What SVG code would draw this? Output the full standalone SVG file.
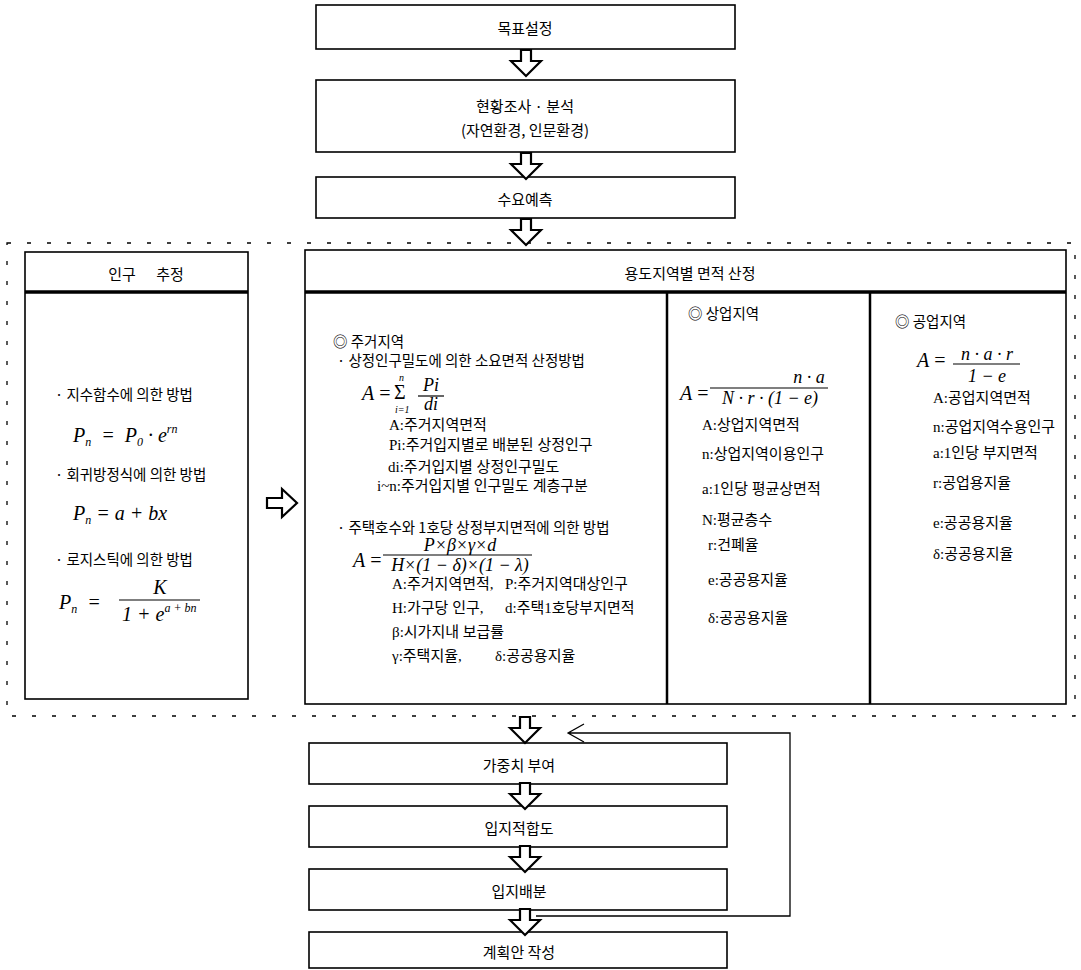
<svg xmlns="http://www.w3.org/2000/svg" width="1081" height="970" viewBox="0 0 1081 970">
<style>
.box{fill:#fff;stroke:#000;stroke-width:1.6}
.thick{stroke:#000;stroke-width:3.5;fill:none}
.col{stroke:#000;stroke-width:2.5;fill:none}
.dot{fill:none;stroke:#000;stroke-width:1.3;stroke-dasharray:4 16}
.lbl{font-family:"Noto Sans CJK KR","Noto Sans",sans-serif;font-size:15px;fill:#000;text-anchor:middle;dominant-baseline:central}
.t{font-family:"Liberation Serif","Noto Sans CJK KR",serif;font-size:15px;fill:#000;dominant-baseline:central}
.k{font-family:"Noto Sans CJK KR",sans-serif;font-size:14.5px;fill:#000;dominant-baseline:central}
.m{font-family:"Liberation Serif",serif;font-style:italic;font-size:20px;fill:#000}
.m18{font-family:"Liberation Serif",serif;font-style:italic;font-size:18px;fill:#000}
.mu{font-family:"Liberation Serif",serif;font-style:normal}
.sub{font-size:12px}
.tiny{font-family:"Liberation Serif",serif;font-style:italic;font-size:10px;fill:#000}
.sig{font-family:"Liberation Serif",serif;font-size:20px;fill:#000}
.arr{fill:#fff;stroke:#000;stroke-width:2.2;stroke-linejoin:miter}
.fb{fill:none;stroke:#000;stroke-width:1.3}
.fl{stroke:#000;stroke-width:1.2}
</style>
<defs>
<path id="da" class="arr" d="M-5,0 H5 V11 H15 L0,26 L-15,11 H-5 Z"/>
</defs>

<rect class="dot" x="7" y="243" width="1068" height="473"/>

<g id="n-goal"><rect class="box" x="316" y="5" width="419" height="44"/><text class="lbl" x="525" y="27">목표설정</text></g>
<g id="n-survey"><rect class="box" x="316" y="80" width="419" height="72"/><text class="lbl" x="525" y="105">현황조사 · 분석</text><text class="lbl" x="525" y="129">(자연환경, 인문환경)</text></g>
<g id="n-demand"><rect class="box" x="316" y="177" width="419" height="41"/><text class="lbl" x="525" y="198">수요예측</text></g>

<g id="n-pop">
<rect class="box" x="25" y="252" width="223" height="447"/>
<line class="thick" x1="25" y1="292" x2="248" y2="292"/>
<text class="lbl" x="122" y="273">인구</text><text class="lbl" x="170" y="273">추정</text>
<text class="k" x="55" y="393">· 지수함수에 의한 방법</text>
<text class="m" x="73" y="442">P<tspan class="sub" dy="4">n</tspan><tspan dy="-4" xml:space="preserve">  =  P</tspan><tspan class="sub" dy="4">0</tspan><tspan dy="-4"> · e</tspan><tspan class="sub" dy="-9">rn</tspan></text>
<text class="k" x="55" y="473">· 회귀방정식에 의한 방법</text>
<text class="m" x="73" y="520">P<tspan class="sub" dy="4">n</tspan><tspan dy="-4"> = a + bx</tspan></text>
<text class="k" x="55" y="558">· 로지스틱에 의한 방법</text>
<text class="m" x="59" y="609">P<tspan class="sub" dy="4">n</tspan><tspan dy="-4" xml:space="preserve">  =</tspan></text>
<text class="m" x="160" y="594" text-anchor="middle">K</text>
<line class="fl" x1="119" y1="600" x2="200" y2="600"/>
<text class="m" x="122" y="621">1 + e<tspan class="sub" dy="-9">a + bn</tspan></text>
</g>

<g id="n-area">
<rect class="box" x="305" y="250" width="761" height="454"/>
<line class="thick" x1="305" y1="292" x2="1066" y2="292"/>
<line class="col" x1="667" y1="292" x2="667" y2="704"/>
<line class="col" x1="870" y1="292" x2="870" y2="704"/>
<text class="lbl" x="690" y="272">용도지역별 면적 산정</text>
</g>

<g id="n-res">
<text class="k" x="333" y="340">◎ 주거지역</text>
<text class="k" x="337" y="359">· 상정인구밀도에 의한 소요면적 산정방법</text>
<text class="m" x="362" y="400">A<tspan class="mu"> =</tspan></text>
<text class="sig" x="394" y="399">Σ</text>
<text class="tiny" x="399" y="381">n</text>
<text class="tiny" x="395" y="413">i=1</text>
<text class="m18" x="431" y="391" text-anchor="middle">Pi</text>
<line class="fl" x1="418" y1="396" x2="444" y2="396"/>
<text class="m18" x="431" y="410" text-anchor="middle">di</text>
<text class="t" x="389" y="425">A:주거지역면적</text>
<text class="t" x="389" y="445">Pi:주거입지별로 배분된 상정인구</text>
<text class="t" x="388" y="467">di:주거입지별 상정인구밀도</text>
<text class="t" x="377" y="486">i~n:주거입지별 인구밀도 계층구분</text>
<text class="k" x="337" y="526">· 주택호수와 1호당 상정부지면적에 의한 방법</text>
<text class="m" x="353" y="567">A<tspan class="mu"> =</tspan></text>
<text class="m18" x="460" y="551" text-anchor="middle">P×β×γ×d</text>
<line class="fl" x1="383" y1="555" x2="532" y2="555"/>
<text class="m18" x="460" y="571" text-anchor="middle">H×(1 − δ)×(1 − λ)</text>
<text class="t" x="392" y="584">A:주거지역면적,</text><text class="t" x="505" y="584">P:주거지역대상인구</text>
<text class="t" x="392" y="608">H:가구당 인구,</text><text class="t" x="505" y="608">d:주택1호당부지면적</text>
<text class="t" x="392" y="632">β:시가지내 보급률</text>
<text class="t" x="392" y="656">γ:주택지율,</text><text class="t" x="495" y="656">δ:공공용지율</text>
</g>

<g id="n-com">
<text class="k" x="688" y="312">◎ 상업지역</text>
<text class="m" x="680" y="400">A<tspan class="mu"> =</tspan></text>
<text class="m18" x="809" y="383" text-anchor="middle">n · a</text>
<line class="fl" x1="710" y1="388" x2="828" y2="388"/>
<text class="m18" x="770" y="404" text-anchor="middle">N · r · (1 − e)</text>
<text class="t" x="702" y="425">A:상업지역면적</text>
<text class="t" x="702" y="454">n:상업지역이용인구</text>
<text class="t" x="702" y="489">a:1인당 평균상면적</text>
<text class="t" x="702" y="520">N:평균층수</text>
<text class="t" x="708" y="545">r:건폐율</text>
<text class="t" x="708" y="580">e:공공용지율</text>
<text class="t" x="708" y="618">δ:공공용지율</text>
</g>

<g id="n-ind">
<text class="k" x="895" y="320">◎ 공업지역</text>
<text class="m" x="917" y="367">A<tspan class="mu"> =</tspan></text>
<text class="m18" x="987" y="360" text-anchor="middle">n · a · r</text>
<line class="fl" x1="953" y1="364" x2="1020" y2="364"/>
<text class="m18" x="987" y="382" text-anchor="middle">1 − e</text>
<text class="t" x="933" y="398">A:공업지역면적</text>
<text class="t" x="933" y="427">n:공업지역수용인구</text>
<text class="t" x="933" y="453">a:1인당 부지면적</text>
<text class="t" x="933" y="483">r:공업용지율</text>
<text class="t" x="933" y="523">e:공공용지율</text>
<text class="t" x="933" y="554">δ:공공용지율</text>
</g>

<g id="n-weight"><rect class="box" x="309" y="743" width="418" height="41"/><text class="lbl" x="519" y="764">가중치 부여</text></g>
<g id="n-suit"><rect class="box" x="309" y="806" width="418" height="41"/><text class="lbl" x="519" y="827">입지적합도</text></g>
<g id="n-alloc"><rect class="box" x="309" y="869" width="418" height="41"/><text class="lbl" x="519" y="890">입지배분</text></g>
<g id="n-plan"><rect class="box" x="309" y="932" width="418" height="36"/><text class="lbl" x="519" y="951">계획안 작성</text></g>

<g id="connectors">
<use href="#da" transform="translate(526,50)"/>
<use href="#da" transform="translate(526,153)"/>
<use href="#da" transform="translate(526,219)"/>
<use href="#da" transform="translate(525,717)"/>
<use href="#da" transform="translate(525,783)"/>
<use href="#da" transform="translate(525,846)"/>
<use href="#da" transform="translate(525,909)"/>
<path class="arr" d="M267,498 H282 V489 L297,503 L282,517 V508 H267 Z"/>
<path class="fb" d="M536,916 H790 V733 H568 M584,724 L568,733 L584,742"/>
</g>
</svg>
